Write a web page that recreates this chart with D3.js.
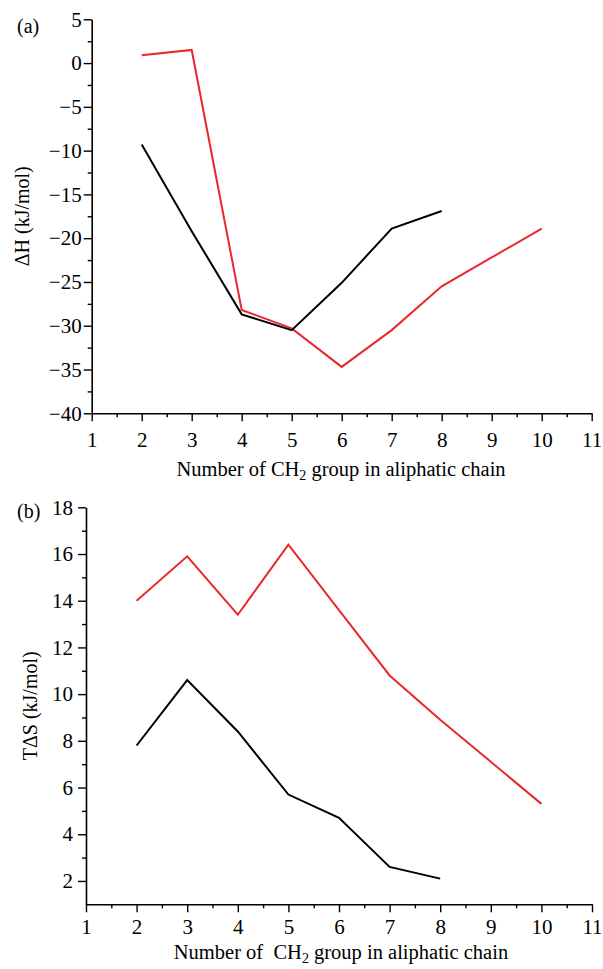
<!DOCTYPE html>
<html>
<head>
<meta charset="utf-8">
<script src="https://cdn.jsdelivr.net/npm/d3@7"></script>
<style>
  body { margin: 0; background: #fff; }
  svg text { font-family: "Liberation Serif", "Times New Roman", serif; fill: #000; white-space: pre; }
</style>
</head>
<body>
<svg id="chart" width="603" height="969"></svg>
<script>
// Number of CH2 groups (x values)
let chainRed = [2, 3, 4, 5, 6, 7, 8, 9, 10];
let chainBlack = [2, 3, 4, 5, 6, 7, 8];
// (a) enthalpy, kJ/mol
let dHBlack = [-9.3, -19.2, -28.7, -30.5, -25.1, -18.9, -16.9];
let dHRed = [0.9, 1.5, -28.2, -30.3, -34.7, -30.5, -25.5, -22.2, -18.9];
// (b) entropy term, kJ/mol
let tdSBlack = [7.8, 10.6, 8.4, 5.7, 4.7, 2.6, 2.1];
let tdSRed = [14.0, 15.9, 13.4, 16.4, 13.6, 10.8, 8.9, 7.1, 5.3];

let xTicks = d3.range(1, 12);
let dHTicks = [5, 0, -5, -10, -15, -20, -25, -30, -35, -40];
let tdSTicks = [2, 4, 6, 8, 10, 12, 14, 16, 18];

let svg = d3.select("#chart");

// Draw one panel: axes, minor ticks, the two lines and the labels
function buildPanel(opts) {
  let x = d3.scaleLinear().domain([1, 11]).range([opts.left, opts.right]);
  let y = d3.scaleLinear().domain(opts.yDomain).range([opts.bottom, opts.top]);
  let g = svg.append("g");

  // minor ticks first so the major ones sit on top
  g.append("g")
      .attr("transform", "translate(0," + opts.bottom + ")")
      .call(d3.axisBottom(x).tickValues(d3.range(1.5, 11, 1)).tickSize(4).tickFormat(""))
      .call(function(a){ a.select(".domain").remove(); });
  g.append("g")
      .attr("transform", "translate(" + opts.left + ",0)")
      .call(d3.axisLeft(y).tickValues(opts.yMinor).tickSize(4).tickFormat(""))
      .call(function(a){ a.select(".domain").remove(); });

  let xAxis = g.append("g")
      .attr("transform", "translate(0," + opts.bottom + ")")
      .call(d3.axisBottom(x).tickValues(xTicks).tickSize(8).tickSizeOuter(0).tickPadding(opts.xPad).tickFormat(d3.format("d")));
  let yAxis = g.append("g")
      .attr("transform", "translate(" + opts.left + ",0)")
      .call(d3.axisLeft(y).tickValues(opts.yTicks).tickSize(8).tickSizeOuter(0).tickPadding(opts.yPad)
        .tickFormat(function(d){ return d < 0 ? "\u2212" + Math.abs(d) : d; }));

  [xAxis, yAxis].forEach(function(a){
    a.selectAll("text").style("font-size", "21px").attr("fill", "#000");
    a.select(".domain").attr("stroke", "#000").attr("stroke-width", 1.6);
  });
  g.selectAll(".tick line").attr("stroke", "#000").attr("stroke-width", 1.4);

  // data lines
  let line = d3.line()
      .x(function(d){ return x(d[0]); })
      .y(function(d){ return y(d[1]); });
  g.append("path")
      .datum(d3.zip(chainRed, opts.red))
      .attr("d", line)
      .attr("fill", "none")
      .attr("stroke", "#e8282c")
      .attr("stroke-width", 2);
  g.append("path")
      .datum(d3.zip(chainBlack, opts.black))
      .attr("d", line)
      .attr("fill", "none")
      .attr("stroke", "#000")
      .attr("stroke-width", 2);

  // labels
  let title = g.append("text")
      .attr("x", 341)
      .attr("y", opts.titleY)
      .attr("text-anchor", "middle")
      .style("font-size", "20.5px");
  title.append("tspan").text(opts.titleStart);
  title.append("tspan").attr("dy", 4).style("font-size", "14px").text("2");
  title.append("tspan").attr("dy", -4).text(" group in aliphatic chain");

  g.append("text")
      .attr("transform", "translate(" + opts.yLabelX + "," + (opts.top + opts.bottom) / 2 + ") rotate(-90)")
      .attr("text-anchor", "middle")
      .style("font-size", "20px")
      .text(opts.yLabel);

  g.append("text")
      .attr("x", 17)
      .attr("y", opts.tagY)
      .style("font-size", "20px")
      .text(opts.tag);
}

buildPanel({
  left: 91.7, right: 591.7, top: 19.3, bottom: 413.3,
  yDomain: [-40, 5], yTicks: dHTicks, yMinor: d3.range(-37.5, 5, 5), yPad: 2, xPad: 11,
  red: dHRed, black: dHBlack,
  titleStart: "Number of CH", titleY: 476,
  yLabel: "\u0394H (kJ/mol)", yLabelX: 29, tag: "(a)", tagY: 33
});

buildPanel({
  left: 86, right: 592, top: 507.3, bottom: 904.3,
  yDomain: [1, 18], yTicks: tdSTicks, yMinor: d3.range(3, 18, 2), yPad: 5, xPad: 7,
  red: tdSRed, black: tdSBlack,
  titleStart: "Number of  CH", titleY: 959,
  yLabel: "T\u0394S (kJ/mol)", yLabelX: 37, tag: "(b)", tagY: 518
});
</script>
</body>
</html>
